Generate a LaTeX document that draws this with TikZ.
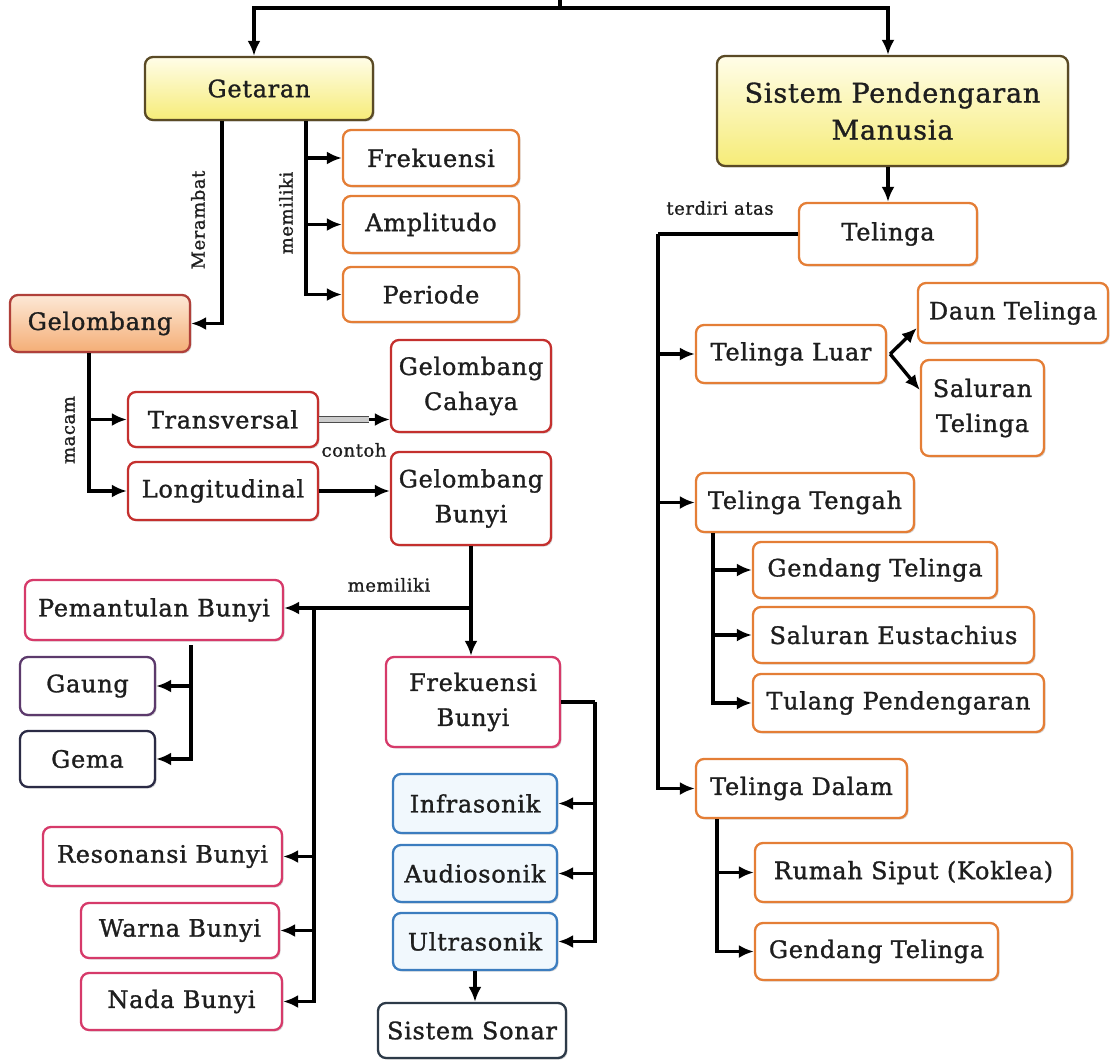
\documentclass[tikz,border=0pt]{standalone}
\usepackage{fontspec}
\setmainfont{DejaVu Serif}[LetterSpace=3.0, FakeBold=1.2]
\usetikzlibrary{arrows.meta,shadows,calc}
\definecolor{ytop}{HTML}{FFFDE8}
\definecolor{ybot}{HTML}{F6EC78}
\definecolor{ydraw}{HTML}{5A4A25}
\definecolor{otop}{HTML}{FDE8D6}
\definecolor{obot}{HTML}{F4AE76}
\definecolor{odraw}{HTML}{B0403A}
\definecolor{orng}{HTML}{E47E36}
\definecolor{redb}{HTML}{C4302E}
\definecolor{pinkb}{HTML}{D63A6A}
\definecolor{gaungb}{HTML}{5C3A6C}
\definecolor{gemab}{HTML}{2B2B45}
\definecolor{blueb}{HTML}{3C7DBF}
\definecolor{bluef}{HTML}{F1F8FD}
\definecolor{sonarb}{HTML}{2D3A48}
\definecolor{txt}{HTML}{1E1E1E}
\tikzset{
  box/.style={draw, rounded corners=8pt, line width=2.3pt, fill=white, align=center,
    inner sep=2pt, font=\fontsize{24}{35}\selectfont, text=txt,
    drop shadow={shadow xshift=1.5pt, shadow yshift=-1.5pt, opacity=0.3}},
  ybox/.style={box, draw=ydraw, top color=ytop, bottom color=ybot},
  gbox/.style={box, draw=odraw, top color=otop, bottom color=obot},
  obox/.style={box, draw=orng},
  rbox/.style={box, draw=redb},
  pbox/.style={box, draw=pinkb},
  bbox/.style={box, draw=blueb, fill=bluef},
  lbl/.style={font=\fontsize{18}{20}\selectfont, text=txt},
  ln/.style={line width=3.4pt},
  arr/.style={ln, -{Latex[length=15pt,width=13pt]}}
}
\begin{document}
\begin{tikzpicture}[x=1pt,y=-1pt]
\useasboundingbox (0,0) rectangle (1112,1061);
% nodes
\node[ybox, minimum width=228, minimum height=63] (getaran) at (259,88.5) {Getaran};
\node[ybox, minimum width=351, minimum height=110, font=\fontsize{27}{37}\selectfont] (sistem) at (892.5,111) {Sistem Pendengaran\\Manusia};
\node[obox, minimum width=176, minimum height=56] (frek) at (431,158) {Frekuensi};
\node[obox, minimum width=176, minimum height=57] (ampl) at (431,224.5) {Amplitudo};
\node[obox, minimum width=176, minimum height=55] (periode) at (431,294.5) {Periode};
\node[gbox, minimum width=180, minimum height=57] (gelombang) at (100,323.5) {Gelombang};
\node[rbox, minimum width=190, minimum height=55] (trans) at (223,419.5) {Transversal};
\node[rbox, minimum width=190, minimum height=58] (longi) at (223,491) {Longitudinal};
\node[rbox, minimum width=160, minimum height=92] (cahaya) at (471,386) {Gelombang\\Cahaya};
\node[rbox, minimum width=160, minimum height=93] (gbunyi) at (471,498.5) {Gelombang\\Bunyi};
\node[pbox, minimum width=258, minimum height=60] (pemantulan) at (154,610) {Pemantulan Bunyi};
\node[box, draw=gaungb, minimum width=135, minimum height=58] (gaung) at (87.5,686) {Gaung};
\node[box, draw=gemab, minimum width=135, minimum height=56] (gema) at (87.5,759) {Gema};
\node[pbox, minimum width=239, minimum height=59] (resonansi) at (162.5,856.5) {Resonansi Bunyi};
\node[pbox, minimum width=198, minimum height=55] (warna) at (180,930.5) {Warna Bunyi};
\node[pbox, minimum width=201, minimum height=57] (nada) at (181.5,1001.5) {Nada Bunyi};
\node[pbox, minimum width=174, minimum height=90] (fbunyi) at (473,702) {Frekuensi\\Bunyi};
\node[bbox, minimum width=164, minimum height=59] (infra) at (475,803.5) {Infrasonik};
\node[bbox, minimum width=164, minimum height=57] (audio) at (475,873.5) {Audiosonik};
\node[bbox, minimum width=164, minimum height=57] (ultra) at (475,941.5) {Ultrasonik};
\node[box, draw=sonarb, minimum width=188, minimum height=55] (sonar) at (472,1030.5) {Sistem Sonar};
\node[obox, minimum width=178, minimum height=62] (telinga) at (888,234) {Telinga};
\node[obox, minimum width=190, minimum height=58] (tluar) at (791,354) {Telinga Luar};
\node[obox, minimum width=190, minimum height=60] (daun) at (1013,313) {Daun Telinga};
\node[obox, minimum width=123, minimum height=96] (saluran) at (982.5,408) {Saluran\\Telinga};
\node[obox, minimum width=218, minimum height=59] (ttengah) at (805,502.5) {Telinga Tengah};
\node[obox, minimum width=244, minimum height=56] (gendang1) at (875,570) {Gendang Telinga};
\node[obox, minimum width=281, minimum height=56] (eust) at (893.5,635) {Saluran Eustachius};
\node[obox, minimum width=291, minimum height=58] (tulang) at (898.5,703) {Tulang Pendengaran};
\node[obox, minimum width=211, minimum height=59] (tdalam) at (801.5,788.5) {Telinga Dalam};
\node[obox, minimum width=317, minimum height=59] (rumah) at (913.5,872.5) {Rumah Siput (Koklea)};
\node[obox, minimum width=243, minimum height=57] (gendang2) at (876.5,951.5) {Gendang Telinga};
% labels
\node[lbl, rotate=90] (lmerambat) at (198,220) {Merambat};
\node[lbl, rotate=90] (lmemiliki1) at (286,213) {memiliki};
\node[lbl, rotate=90] (lmacam) at (70,430) {macam};
\node[lbl] (lcontoh) at (354,450) {contoh};
\node[lbl] (lmemiliki2) at (389,585) {memiliki};
\node[lbl] (lterdiri) at (720,208) {terdiri atas};
% junction coordinates
\coordinate (root) at (560,0);
\coordinate (topj) at (560,8);
\coordinate (mg) at ([xshift=47pt]getaran.south);
\coordinate (mr) at ([xshift=-37pt]getaran.south);
\coordinate (mc) at ([xshift=-11pt]gelombang.south);
\coordinate (mj) at (471,608);
\coordinate (pj) at (314,608);
\coordinate (gj) at (191,645);
\coordinate (fj) at (595,702);
\coordinate (tj) at (658,234);
\coordinate (lj) at ([xshift=3pt]tluar.east);
\coordinate (tt) at ([xshift=18pt]ttengah.south west);
\coordinate (td) at ([xshift=22pt]tdalam.south west);
\coordinate (cj) at ([xshift=50pt]trans.east);
% connectors
\draw[ln] (root) -- (topj);
\draw[arr] (topj) -| ([xshift=-5pt]getaran.north);
\draw[arr] (topj) -| (telinga.north |- sistem.north);
\draw[arr] (mr) |- (gelombang.east);
\draw[arr] (mg) |- (frek.west);
\draw[arr] (mg) |- (ampl.west);
\draw[arr] (mg) |- (periode.west);
\draw[arr] (mc) |- (trans.west);
\draw[arr] (mc) |- (longi.west);
\draw[line width=1.4pt, draw=gray!60!black, double=gray!40, double distance=5pt] (trans.east) -- (cj);
\draw[arr] (cj) -- (cj -| cahaya.west);
\draw[arr] (longi.east) -- (longi.east -| gbunyi.west);
\draw[arr] (gbunyi.south) -- (gbunyi.south |- fbunyi.north);
\draw[arr] (mj) -- (mj -| pemantulan.east);
\draw[arr] (pj) |- (resonansi.east);
\draw[arr] (pj) |- (warna.east);
\draw[arr] (pj) |- (nada.east);
\draw[arr] (gj) |- (gaung.east);
\draw[arr] (gj) |- (gema.east);
\draw[ln] (fbunyi.east) -- (fj);
\draw[arr] (fj) |- (infra.east);
\draw[arr] (fj) |- (audio.east);
\draw[arr] (fj) |- (ultra.east);
\draw[arr] (ultra.south) -- (ultra.south |- sonar.north);
\draw[arr] (telinga.north |- sistem.south) -- (telinga.north);
\draw[ln] (telinga.west) -- (tj);
\draw[arr] (tj) |- (tluar.west);
\draw[arr] (tj) |- (ttengah.west);
\draw[arr] (tj) |- (tdalam.west);
\draw[arr] (lj) -- ([yshift=-15pt]daun.west);
\draw[arr] (lj) -- ([yshift=18pt]saluran.west);
\draw[arr] (tt) |- (gendang1.west);
\draw[arr] (tt) |- (eust.west);
\draw[arr] (tt) |- (tulang.west);
\draw[arr] (td) |- (rumah.west);
\draw[arr] (td) |- (gendang2.west);
\end{tikzpicture}
\end{document}
